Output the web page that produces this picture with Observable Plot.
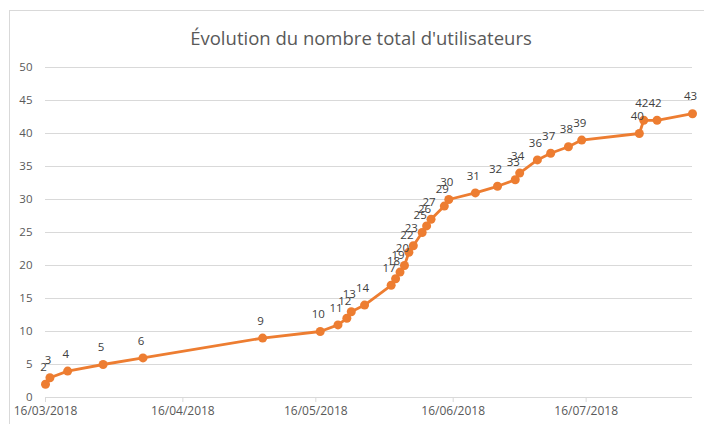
<!DOCTYPE html>
<html>
<head>
<meta charset="utf-8">
<script src="https://cdn.jsdelivr.net/npm/d3@7"></script>
<script src="https://cdn.jsdelivr.net/npm/@observablehq/plot@0.6"></script>
<style>
  html, body { margin: 0; padding: 0; background: #fff; overflow: hidden; }
  #wrap { position: relative; width: 704px; height: 424px; }
  #frame { position: absolute; left: 9px; top: 10px; width: 800px; height: 500px; border: 1px solid #d9d9d9; box-sizing: border-box; }
  #title { position: absolute; left: 9px; top: 26px; width: 704px; text-align: center; font-family: "Open Sans", sans-serif; font-size: 18.5px; color: #595959; line-height: 24px; }
  #chart { position: absolute; left: 0; top: 0; }
</style>
</head>
<body>
<div id="wrap">
  <div id="frame"></div>
  <div id="chart"></div>
  <div id="title">Évolution du nombre total d'utilisateurs</div>
</div>
<script>
const dates = ["2018-03-16","2018-03-17","2018-03-21","2018-03-29","2018-04-07","2018-05-04","2018-05-17","2018-05-21","2018-05-23","2018-05-24","2018-05-27","2018-06-02","2018-06-03","2018-06-04","2018-06-05","2018-06-06","2018-06-07","2018-06-09","2018-06-10","2018-06-11","2018-06-14","2018-06-15","2018-06-21","2018-06-26","2018-06-30","2018-07-01","2018-07-05","2018-07-08","2018-07-12","2018-07-15","2018-07-28","2018-07-29","2018-08-01","2018-08-09"];
const users = [2,3,4,5,6,9,10,11,12,13,14,17,18,19,20,22,23,25,26,27,29,30,31,32,33,34,36,37,38,39,40,42,42,43];
const xTicks = ["2018-03-16","2018-04-16","2018-05-16","2018-06-16","2018-07-16"];
const yTicks = [0,5,10,15,20,25,30,35,40,45,50];
const xDomain = ["2018-03-16","2018-08-09"];

const data = dates.map((d, i) => ({date: new Date(d), users: users[i]}));
const orange = "#ED7D31";

const chart = Plot.plot({
  width: 704,
  height: 424,
  marginLeft: 45,
  marginRight: 12,
  marginTop: 67,
  marginBottom: 27,
  style: {fontFamily: "'Open Sans', sans-serif", fontSize: "12px", color: "#595959", background: "transparent", overflow: "visible"},
  x: {type: "utc", domain: xDomain.map(d => new Date(d))},
  y: {domain: [0, 50]},
  marks: [
    Plot.gridY(yTicks, {stroke: "#d9d9d9", strokeOpacity: 1, strokeWidth: 1}),
    Plot.axisY(yTicks, {tickSize: 0, tickPadding: 13, label: null, fill: "#595959", fontSize: 11.5}),
    Plot.axisX(xTicks.map(d => new Date(d)), {tickSize: 5, tickPadding: 4, stroke: "#d9d9d9", fill: "#595959", label: null, fontSize: 12, tickFormat: d3.utcFormat("%d/%m/%Y")}),
    Plot.ruleY([0], {stroke: "#d9d9d9", strokeWidth: 1}),
    Plot.line(data, {x: "date", y: "users", stroke: orange, strokeWidth: 2.8}),
    Plot.dot(data, {x: "date", y: "users", r: 4.5, fill: orange, stroke: "none"}),
    Plot.text(data, {x: "date", y: "users", text: d => String(d.users), dy: -17, dx: -2, fill: "#404040", fontSize: 11.5})
  ]
});
document.getElementById("chart").appendChild(chart);
</script>
</body>
</html>
